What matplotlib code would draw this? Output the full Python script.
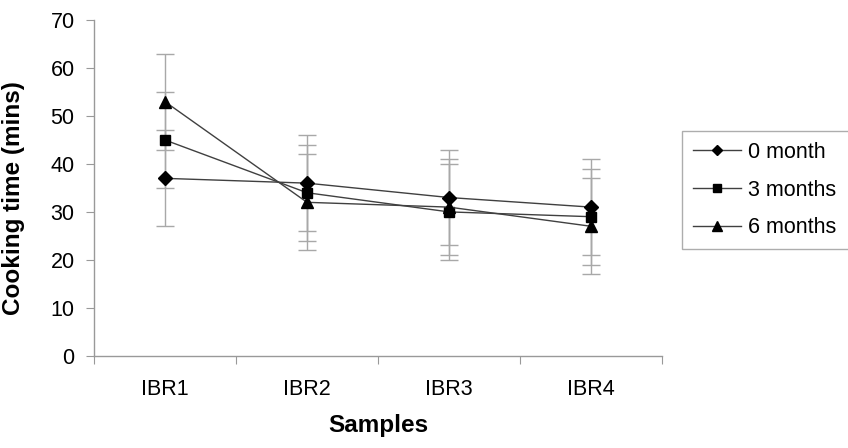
import matplotlib
matplotlib.use("Agg")
import matplotlib.pyplot as plt
import numpy as np

plt.rcParams['font.family'] = ['Liberation Sans', 'DejaVu Sans']

samples = ["IBR1", "IBR2", "IBR3", "IBR4"]
series_names = ["0 month", "3 months", "6 months"]
month0 = [37, 36, 33, 31]
month3 = [45, 34, 30, 29]
month6 = [53, 32, 31, 27]
err0 = [10, 10, 10, 10]
err3 = [10, 10, 10, 10]
err6 = [10, 10, 10, 10]

fig = plt.figure(figsize=(8.48, 4.48), dpi=100)
ax = fig.add_axes([0.1108, 0.206, 0.6699, 0.749])

x = np.arange(len(samples))
markers = ["D", "s", "^"]
msizes = [7, 7, 9]
handles = []
for vals, errs, m, ms, name in zip([month0, month3, month6], [err0, err3, err6],
                                   markers, msizes, series_names):
    ax.errorbar(x, vals, yerr=errs, fmt="none", ecolor="#a8a8a8", elinewidth=1.0,
                capsize=6.5, capthick=1.0, zorder=1)
    h, = ax.plot(x, vals, color="#404040", linewidth=1.0, marker=m, markersize=ms,
                 markerfacecolor="black", markeredgecolor="black", zorder=3, label=name)
    handles.append(h)

ax.set_xlim(-0.5, len(samples) - 0.5)
ax.set_ylim(0, 70)
ax.set_yticks(np.arange(0, 71, 10))
ax.set_xticks(np.arange(-0.5, len(samples), 1.0))
ax.set_xticklabels([])
ax.set_xticks(x, minor=True)
ax.set_xticklabels(samples, minor=True)
ax.tick_params(axis="x", which="major", length=6, color="#999999", direction="out")
ax.tick_params(axis="x", which="minor", length=0, pad=17, labelsize=15.5)
ax.tick_params(axis="y", length=6, color="#999999", direction="out", pad=8, labelsize=15.5)

for s in ["top", "right"]:
    ax.spines[s].set_visible(False)
for s in ["left", "bottom"]:
    ax.spines[s].set_color("#999999")
    ax.spines[s].set_linewidth(1.0)

ax.set_xlabel("Samples", fontsize=17.5, fontweight="bold", labelpad=10)
ax.set_ylabel("Cooking time (mins)", fontsize=17.5, fontweight="bold", labelpad=8)
ax.yaxis.set_label_coords(-0.122, 0.47)

leg = fig.legend(handles=handles, loc="upper left",
                 bbox_to_anchor=(682/848, 1 - 131/448 - 0.01, 200/848, 0.01), mode="expand",
                 frameon=True, fancybox=False, fontsize=15.5, handlelength=2.25,
                 handletextpad=0.3, borderpad=0.5, labelspacing=0.78, borderaxespad=0,
                 markerscale=0.75)
leg.get_frame().set_edgecolor("#999999")
leg.get_frame().set_linewidth(1.0)

fig.savefig("out.png", dpi=100)
